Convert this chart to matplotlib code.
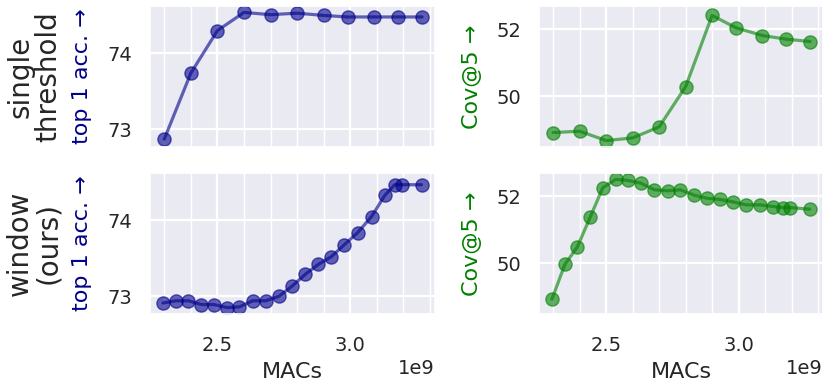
import numpy as np
import matplotlib
matplotlib.use("Agg")
import matplotlib.pyplot as plt
import seaborn as sns
from matplotlib.ticker import MultipleLocator

sns.set_theme(style="darkgrid")
plt.rcParams['font.family'] = ['DejaVu Sans']

# single threshold
macs_single = [2.30e9, 2.40e9, 2.50e9, 2.60e9, 2.70e9, 2.80e9, 2.90e9, 2.99e9, 3.09e9, 3.18e9, 3.27e9]
top1_single = [72.87, 73.74, 74.30, 74.54, 74.51, 74.53, 74.50, 74.48, 74.48, 74.48, 74.48]
cov5_single = [48.92, 48.96, 48.68, 48.76, 49.09, 50.29, 52.42, 52.05, 51.82, 51.71, 51.64]

# window (ours)
macs_window = [2.295e9, 2.344e9, 2.391e9, 2.44e9, 2.487e9, 2.536e9, 2.583e9, 2.633e9, 2.682e9,
               2.732e9, 2.78e9, 2.831e9, 2.88e9, 2.928e9, 2.978e9, 3.028e9, 3.08e9, 3.13e9,
               3.167e9, 3.193e9, 3.268e9]
top1_window = [72.91, 72.94, 72.94, 72.89, 72.89, 72.85, 72.86, 72.94, 72.94, 73.00, 73.13,
               73.29, 73.42, 73.52, 73.68, 73.84, 74.05, 74.33, 74.47, 74.47, 74.47]
cov5_window = [48.93, 49.97, 50.49, 51.39, 52.26, 52.51, 52.48, 52.39, 52.20, 52.17, 52.20,
               52.04, 51.95, 51.91, 51.84, 51.75, 51.75, 51.70, 51.67, 51.67, 51.62]

row_titles = ["single\nthreshold", "window\n(ours)"]
acc_label = "top 1 acc. →"
cov_label = "Cov@5 →"
xlabel = "MACs"

W, H = 830, 388
fig = plt.figure(figsize=(W / 100, H / 100), dpi=100)

def rect(x0, y0, x1, y1):
    return [x0 / W, 1 - y1 / H, (x1 - x0) / W, (y1 - y0) / H]

ax_tl = fig.add_axes(rect(150, 6, 435, 147))
ax_tr = fig.add_axes(rect(539, 6, 823, 147), sharex=ax_tl)
ax_bl = fig.add_axes(rect(150, 173, 435, 314), sharex=ax_tl, sharey=ax_tl)
ax_br = fig.add_axes(rect(539, 173, 823, 314), sharex=ax_tl, sharey=ax_tr)

acc_color = "darkblue"
cov_color = "green"
style = dict(marker="o", markersize=9.5, linewidth=2.3, alpha=0.6)

ax_tl.plot(macs_single, top1_single, color=acc_color, **style)
ax_tr.plot(macs_single, cov5_single, color=cov_color, **style)
ax_bl.plot(macs_window, top1_window, color=acc_color, **style)
ax_br.plot(macs_window, cov5_window, color=cov_color, **style)

for ax in (ax_tl, ax_tr, ax_bl, ax_br):
    ax.xaxis.set_major_locator(MultipleLocator(0.5e9))
    ax.xaxis.set_minor_locator(MultipleLocator(0.1e9))
    ax.grid(which="major", color="white", linewidth=1.6)
    ax.grid(which="minor", axis="x", color="white", linewidth=1.0)
    ax.tick_params(which="both", length=0, labelsize=14, pad=13, colors=".15")
    ax.tick_params(axis="x", pad=16)
    ax.xaxis.get_offset_text().set_fontsize(14)
    ax.xaxis.get_offset_text().set_color(".15")

ax_tl.yaxis.set_major_locator(MultipleLocator(1))
ax_tr.yaxis.set_major_locator(MultipleLocator(2))

for ax in (ax_tl, ax_tr):
    ax.tick_params(axis="x", labelbottom=False)
    ax.xaxis.get_offset_text().set_visible(False)

for ax in (ax_bl, ax_br):
    ax.set_xlabel(xlabel, fontsize=16, color=".15", labelpad=5)

# row titles and y labels
for i, (y0, y1) in enumerate([(6, 147), (173, 314)]):
    yc = 1 - (y0 + y1) / 2 / H
    fig.text(34 / W, yc, row_titles[i], rotation=90, ha="center", va="center",
             fontsize=20, color=".15", linespacing=1.0)
    fig.text(82 / W, yc, acc_label, rotation=90, ha="center", va="center",
             fontsize=16, color=acc_color)
    fig.text(472 / W, yc, cov_label, rotation=90, ha="center", va="center",
             fontsize=16, color=cov_color)

fig.savefig("out.png", dpi=100)
